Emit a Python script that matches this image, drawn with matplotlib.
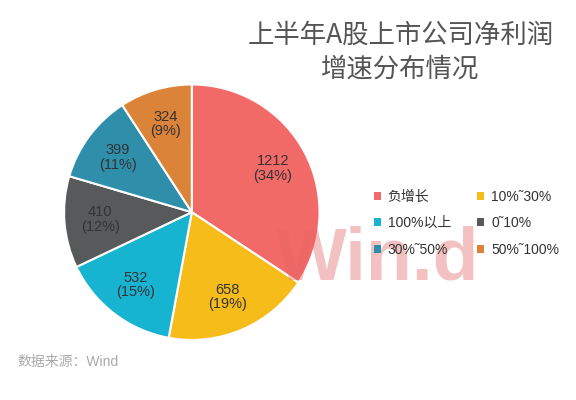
import matplotlib.pyplot as plt
from matplotlib.patches import Patch

plt.rcParams['font.family'] = ['Liberation Sans', 'Noto Sans CJK SC', 'DejaVu Sans']

# data
categories = ["负增长", "10%˜30%", "100%以上", "0˜10%", "30%˜50%", "50%˜100%"]
counts = [1212, 658, 532, 410, 399, 324]
colors = ["#F26A67", "#F5BC1A", "#17B4D2", "#58595B", "#2F8FAB", "#DA8339"]

fig = plt.figure(figsize=(5.76, 4.0), dpi=100)
ax = fig.add_axes([0.109, 0.147, 0.448, 0.645])

total = sum(counts)


def fmt(pct):
    val = int(round(pct * total / 100.0))
    return f"{val}\n({pct:.0f}%)"


wedges, texts, autotexts = ax.pie(
    counts,
    colors=colors,
    startangle=90,
    counterclock=False,
    autopct=fmt,
    pctdistance=0.72,
    wedgeprops=dict(edgecolor="white", linewidth=1.5),
    textprops=dict(color="#333333", fontsize=10.5, linespacing=1.05),
)
ax.set_xlim(-1.01, 1.01)
ax.set_ylim(-1.01, 1.01)
ax.set_aspect("equal")

# title
title_font = ['Noto Sans CJK SC', 'DejaVu Sans']
fig.text(0.695, 0.912, "上半年A股上市公司净利润", ha="center", va="center",
         fontsize=19, color="#555555", family=title_font)
fig.text(0.695, 0.828, "增速分布情况", ha="center", va="center",
         fontsize=19, color="#555555", family=title_font)

# watermark
fig.text(0.655, 0.35, "Win.d", ha="center", va="center", fontsize=54,
         fontweight="bold", color="#E36464", alpha=0.4, zorder=1,
         family=['Liberation Sans Narrow', 'Liberation Sans'])

# legend, order in rows of two
order = [0, 2, 4, 1, 3, 5]
handles = [Patch(facecolor=colors[i], edgecolor="none") for i in order]
labels = [categories[i] for i in order]
leg = fig.legend(handles, labels, ncol=2, loc="center left",
                 bbox_to_anchor=(0.627, 0.442), frameon=False, fontsize=10,
                 handlelength=0.5, handleheight=0.5, handletextpad=0.5,
                 columnspacing=1.9, labelspacing=0.9, labelcolor="#333333")
leg.set_zorder(5)

# source
fig.text(0.03, 0.095, "数据来源：Wind", ha="left", va="center",
         fontsize=10, color="#AAAAAA")

fig.savefig("out.png", dpi=100, facecolor="white")
